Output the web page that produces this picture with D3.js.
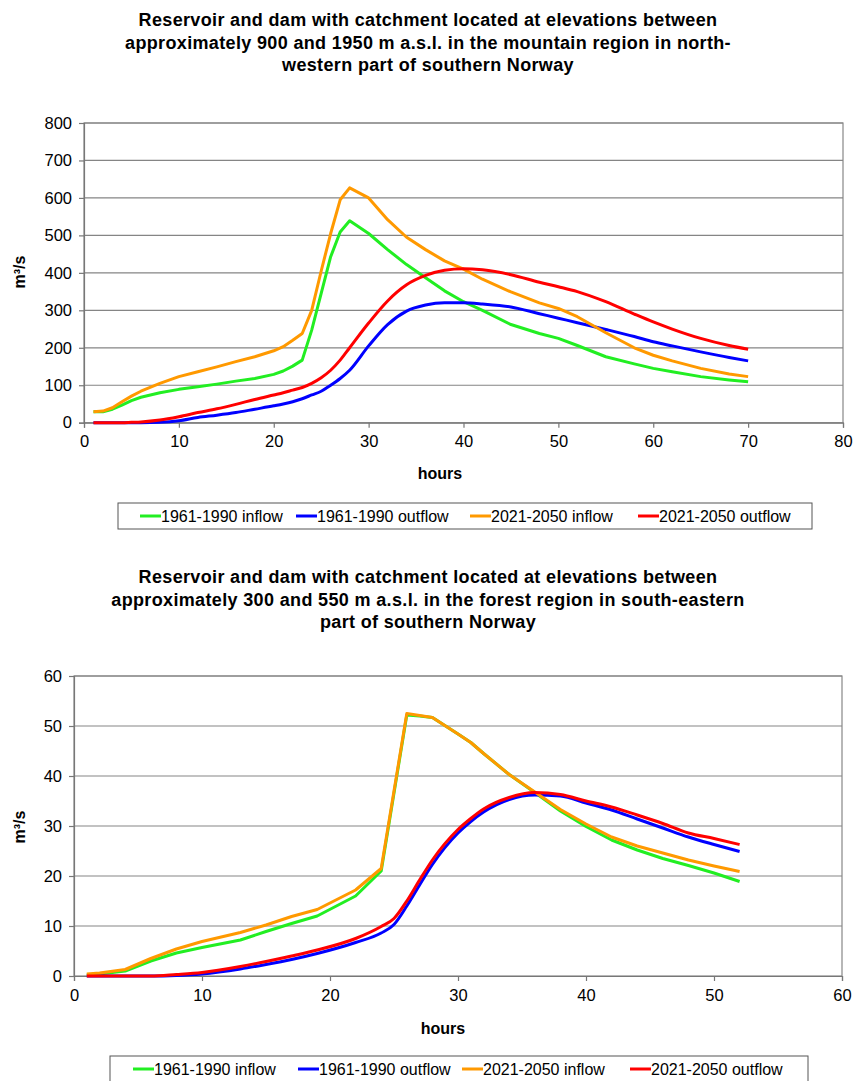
<!DOCTYPE html>
<html><head><meta charset="utf-8">
<script src="https://cdn.jsdelivr.net/npm/d3@7"></script>
<style>
body{margin:0;background:#fff}
text{font-family:"Liberation Sans",Arial,sans-serif;fill:#000}
</style>
</head><body>
<svg id="c" width="853" height="1081"></svg>
<script>
// ---------- data ----------
const seriesNames = ["1961-1990 inflow","1961-1990 outflow","2021-2050 inflow","2021-2050 outflow"];
const seriesColors = ["#22ee22","#0000ff","#ff9900","#ff0000"];

const topTitle = ["Reservoir and dam with catchment located at elevations between",
  "approximately 900 and 1950 m a.s.l. in the mountain region in north-",
  "western part of southern Norway"];
const topXTicks = [0,10,20,30,40,50,60,70,80];
const topYTicks = [0,100,200,300,400,500,600,700,800];
const topHours = [1,2,3,4,5,6,8,10,12,14,16,18,20,21,22,23,24,25,26,27,28,30,32,34,36,38,40,42,45,48,50,52,55,58,60,62,65,68,70];
const topInflow1961 = [29,29,36,47,59,68,80,89,96,103,111,118,129,138,151,167,247,345,443,509,539,505,462,422,387,352,323,300,262,238,225,206,176,157,145,136,123,114,109];
const topOutflow1961 = [0,0,0,0,0,0,1,5,14,20,27,36,45,50,56,64,74,84,100,118,140,205,262,298,314,320,320,317,309,291,279,267,249,230,216,205,189,174,165];
const topInflow2021 = [29,31,40,56,71,84,105,123,136,149,163,176,192,203,220,238,300,405,505,595,627,600,542,495,462,432,410,383,349,320,305,283,240,200,180,165,145,130,123];
const topOutflow2021 = [0,0,0,0,1,2,7,16,27,37,49,62,74,80,87,94,105,120,140,167,200,266,325,368,393,407,411,408,395,375,363,350,323,290,269,250,225,206,196];

const botTitle = ["Reservoir and dam with catchment located at elevations between",
  "approximately 300 and 550 m a.s.l. in the forest region in south-eastern",
  "part of southern Norway"];
const botXTicks = [0,10,20,30,40,50,60];
const botYTicks = [0,10,20,30,40,50,60];
const botHours = [1,2,4,6,8,10,13,15,17,19,22,24,25,26,27,28,30,31,32,34,36,38,40,42,44,46,48,50,52];
const botInflow1961 = [0.2,0.4,1.0,3.0,4.6,5.7,7.2,8.9,10.5,12,16,21,36.6,52.2,52,51.7,48.4,46.7,44.5,40.3,36.7,33,29.9,27.2,25.2,23.5,22.1,20.6,18.9];
const botOutflow1961 = [0,0,0,0,0.1,0.4,1.4,2.3,3.3,4.5,6.7,8.6,10.3,14,18.2,22.3,28.6,30.9,32.8,35.3,36.2,36,34.6,33.2,31.4,29.6,27.8,26.3,24.9];
const botInflow2021 = [0.4,0.6,1.3,3.5,5.4,6.9,8.7,10.2,11.9,13.3,17.2,21.5,37,52.5,52.1,51.7,48.4,46.7,44.5,40.3,36.8,33.3,30.4,27.8,26,24.6,23.2,22,20.9];
const botOutflow2021 = [0,0,0,0,0.3,0.7,1.9,2.9,4,5.2,7.5,9.9,11.5,15,19.2,23.2,29.3,31.5,33.4,35.7,36.7,36.3,35,33.8,32.2,30.5,28.6,27.5,26.3];

const yLabel = "m³/s";
const xLabel = "hours";

// ---------- drawing ----------
const svg = d3.select("#c");

function drawChart(cfg){
  const g = svg.append("g");
  cfg.title.forEach((t,i)=>{
    g.append("text").attr("x",cfg.titleX).attr("y",cfg.titleY + i*cfg.titleLH)
      .attr("text-anchor","middle").attr("font-weight","bold").attr("font-size",cfg.titleSize)
      .attr("letter-spacing","0.35px").text(t);
  });
  const x = d3.scaleLinear().domain([0,cfg.xMax]).range([cfg.left,cfg.right]);
  const y = d3.scaleLinear().domain([0,cfg.yMax]).range([cfg.bottom,cfg.top]);

  g.append("rect").attr("x",cfg.left).attr("y",cfg.top).attr("width",cfg.right-cfg.left)
    .attr("height",cfg.bottom-cfg.top).attr("fill","#fff").attr("stroke","#888").attr("stroke-width",1.2);
  g.append("g").selectAll("line").data(cfg.yTicks.filter(v=>v>0)).join("line")
    .attr("x1",cfg.left).attr("x2",cfg.right).attr("y1",d=>y(d)).attr("y2",d=>y(d))
    .attr("stroke","#858585").attr("stroke-width",1.2);

  const ya = g.append("g").attr("transform",`translate(${cfg.left},0)`)
    .call(d3.axisLeft(y).tickValues(cfg.yTicks).tickSize(5).tickPadding(7).tickFormat(d3.format("d")));
  const xa = g.append("g").attr("transform",`translate(0,${cfg.bottom})`)
    .call(d3.axisBottom(x).tickValues(cfg.xTicks).tickSize(5).tickPadding(8).tickFormat(d3.format("d")));
  [ya,xa].forEach(a=>{
    a.select(".domain").attr("stroke","#777").attr("stroke-width",1.2);
    a.selectAll(".tick line").attr("stroke","#777").attr("stroke-width",1.2);
    a.selectAll("text").attr("font-size",cfg.tickSize).attr("fill","#000")
      .attr("font-family",'"Liberation Sans",Arial,sans-serif');
  });

  g.append("text").attr("transform",`translate(${cfg.yLabelX},${cfg.yLabelY}) rotate(-90)`)
    .attr("text-anchor","middle").attr("font-weight","bold").attr("font-size",cfg.labelSize).text(yLabel);
  g.append("text").attr("x",cfg.xLabelX).attr("y",cfg.xLabelY)
    .attr("text-anchor","middle").attr("font-weight","bold").attr("font-size",cfg.labelSize).text(xLabel);

  cfg.series.forEach((vals,i)=>{
    const pts = cfg.hours.map((h,j)=>[h,vals[j]]);
    const line = d3.line().x(d=>x(d[0])).y(d=>y(d[1])).curve(cfg.curves[i]);
    g.append("path").datum(pts).attr("d",line).attr("fill","none")
      .attr("stroke",seriesColors[i]).attr("stroke-width",3).attr("stroke-linejoin","round");
  });

  const L = cfg.legend;
  g.append("rect").attr("x",L.x).attr("y",L.y).attr("width",L.w).attr("height",L.h)
    .attr("fill","#fff").attr("stroke","#555").attr("stroke-width",1);
  seriesNames.forEach((n,i)=>{
    const lx = L.items[i];
    g.append("line").attr("x1",lx).attr("x2",lx+21).attr("y1",L.y+L.h/2).attr("y2",L.y+L.h/2)
      .attr("stroke",seriesColors[i]).attr("stroke-width",3);
    g.append("text").attr("x",lx+21).attr("y",L.y+L.h/2+5.5).attr("font-size",L.size).text(n);
  });
}

const mono = d3.curveMonotoneX, lin = d3.curveLinear;
drawChart({
  title: topTitle, titleX: 428, titleY: 26, titleLH: 22.6, titleSize: 18,
  left: 84, right: 843, top: 123, bottom: 422.7, xMax: 80, yMax: 800,
  xTicks: topXTicks, yTicks: topYTicks, tickSize: 16.5, labelSize: 16,
  yLabelX: 25, yLabelY: 272, xLabelX: 440, xLabelY: 479,
  hours: topHours, series: [topInflow1961, topOutflow1961, topInflow2021, topOutflow2021],
  curves: [lin, mono, lin, mono],
  legend: {x:118, y:503, w:694, h:26, size:16, items:[140, 296, 470, 638]}
});
drawChart({
  title: botTitle, titleX: 428, titleY: 583, titleLH: 22.6, titleSize: 18,
  left: 74, right: 842, top: 676, bottom: 976, xMax: 60, yMax: 60,
  xTicks: botXTicks, yTicks: botYTicks, tickSize: 16.5, labelSize: 16,
  yLabelX: 25, yLabelY: 827, xLabelX: 443, xLabelY: 1034,
  hours: botHours, series: [botInflow1961, botOutflow1961, botInflow2021, botOutflow2021],
  curves: [lin, mono, lin, mono],
  legend: {x:110, y:1056, w:698, h:26, size:16, items:[133, 298, 462, 630]}
});
</script>
</body></html>
